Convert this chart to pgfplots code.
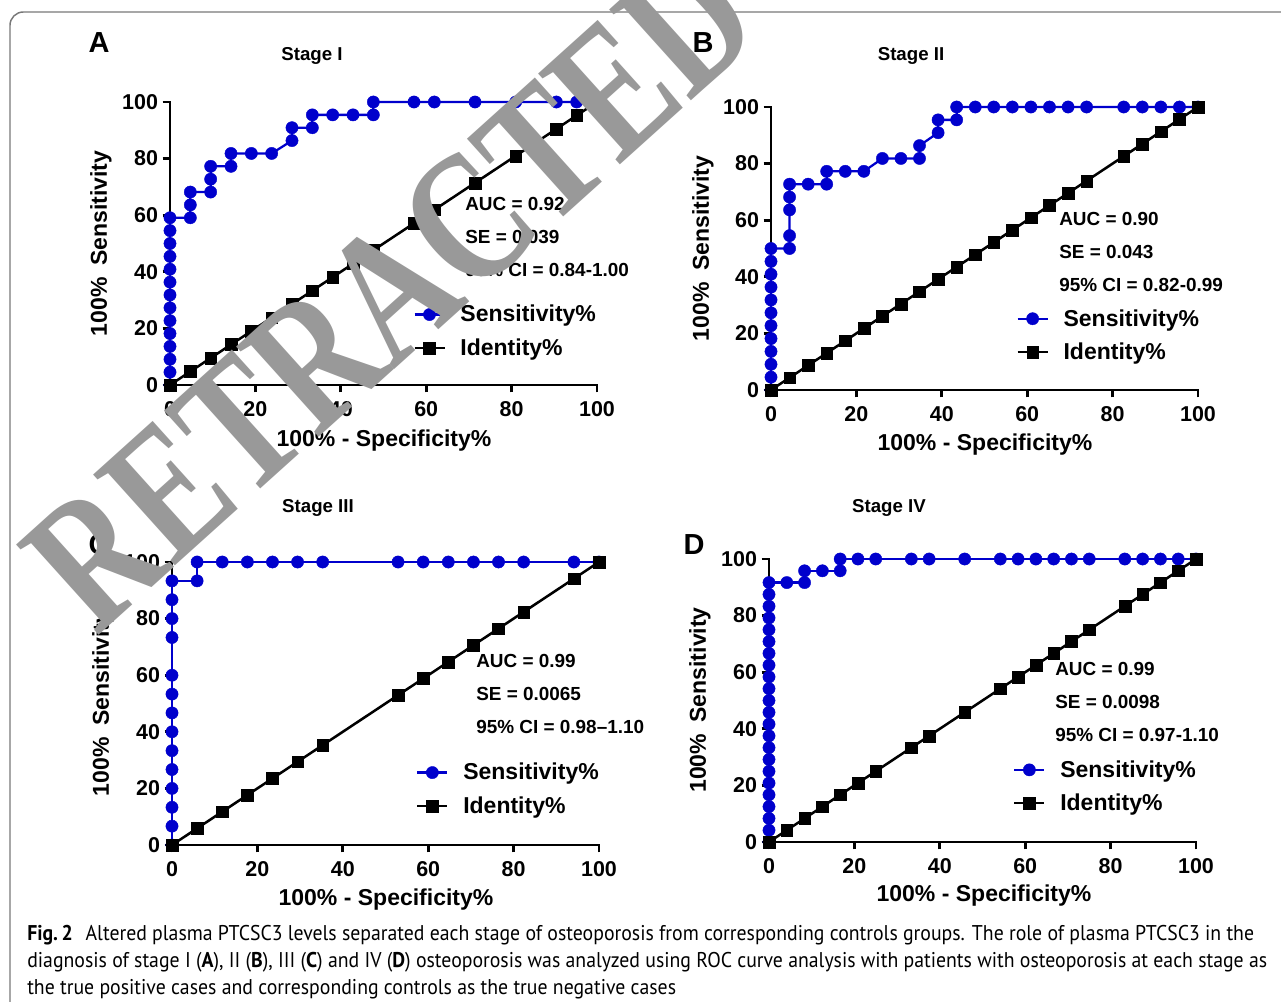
\documentclass[border=0pt]{standalone}
\usepackage{pgfplots}
\pgfplotsset{compat=1.18}
\usepackage{fontspec}
\setmainfont{Liberation Sans}
\newfontfamily\capfont{PT Sans}[FakeStretch=0.927]
\newfontfamily\wmfont{Liberation Serif}[FakeStretch=0.77]
\definecolor{rocblue}{RGB}{0,0,204}
\definecolor{wmgray}{RGB}{153,153,153}
\definecolor{framegray}{RGB}{120,120,120}
\newcommand\fs[1]{\fontsize{#1pt}{#1pt}\selectfont}

\pgfplotsset{
 roc/.style={
  scale only axis, width=320.25pt, height=212.25pt,
  xmin=0,xmax=100,ymin=0,ymax=100,
  axis lines=left,
  axis line style={-, line width=2.2pt, line cap=rect},
  xtick={0,20,...,100}, ytick={0,20,...,100},
  tick align=outside, major tick length=5.5pt,
  tick style={black, line width=2pt},
  minor tick num=0,
  ticklabel style={font=\fs{16.1}\bfseries},
  xticklabel style={yshift=-3.5pt},
  /pgf/number format/assume math mode=true,
  clip=false,
  legend style={draw=none, fill=none, font=\fs{17.25}\bfseries, anchor=west, inner sep=0pt, row sep=7pt},
  legend cell align=left,
  legend image code/.code={\draw[mark repeat=2,mark phase=2] plot coordinates {(0pt,0pt)(11.25pt,0pt)(22.5pt,0pt)};\path (31.5pt,0pt);},
 },
 sens/.style={rocblue, line width=1.7pt, mark=*, mark size=4.6pt, mark options={solid, line width=0.3pt}},
 iden/.style={black, line width=1.9pt, mark=square*, mark size=4.4pt, mark options={solid, line width=0.3pt}},
}

\begin{document}
\begin{tikzpicture}
\begin{scope}[x=0.75pt,y=-0.75pt]
\coordinate (oA) at (170,385);
\coordinate (oB) at (771,390);
\coordinate (oC) at (172,845);
\coordinate (oD) at (769,842);
\draw[framegray, line width=1.1pt, rounded corners=10pt] (10,12) rectangle (1310,1030);
\end{scope}

% ---------- A ----------
\begin{axis}[roc, at={(oA)}, anchor=south west,
  legend style={at={(axis cs:56.9,19.0)}}]
\addplot[sens] coordinates {(0,0)(0,4.55)(0,9.09)(0,13.64)(0,18.18)(0,22.73)(0,27.27)(0,31.82)(0,36.36)(0,40.91)(0,45.45)(0,50)(0,54.55)(0,59.09)(4.76,59.09)(4.76,63.64)(4.76,68.18)(9.52,68.18)(9.52,72.73)(9.52,77.27)(14.29,77.27)(14.29,81.82)(19.05,81.82)(23.81,81.82)(28.57,86.36)(28.57,90.91)(33.33,90.91)(33.33,95.45)(38.10,95.45)(42.86,95.45)(47.62,95.45)(47.62,100)(57.14,100)(61.90,100)(71.43,100)(80.95,100)(90.48,100)(95.24,100)(100,100)};
\addlegendentry{Sensitivity\%}
\addplot[iden] coordinates {(0,0)(4.76,4.76)(9.52,9.52)(14.29,14.29)(19.05,19.05)(23.81,23.81)(28.57,28.57)(33.33,33.33)(38.10,38.10)(42.86,42.86)(47.62,47.62)(57.14,57.14)(61.90,61.90)(71.43,71.43)(80.95,80.95)(90.48,90.48)(95.24,95.24)(100,100)};
\addlegendentry{Identity\%}
\end{axis}

% ---------- B ----------
\begin{axis}[roc, at={(oB)}, anchor=south west,
  legend style={at={(axis cs:57.4,19.3)}}]
\addplot[sens] coordinates {(0,0)(0,4.55)(0,9.09)(0,13.64)(0,18.18)(0,22.73)(0,27.27)(0,31.82)(0,36.36)(0,40.91)(0,45.45)(0,50)(4.35,50)(4.35,54.55)(4.35,63.64)(4.35,68.18)(4.35,72.73)(8.70,72.73)(13.04,72.73)(13.04,77.27)(17.39,77.27)(21.74,77.27)(26.09,81.82)(30.43,81.82)(34.78,81.82)(34.78,86.36)(39.13,90.91)(39.13,95.45)(43.48,95.45)(43.48,100)(47.83,100)(52.17,100)(56.52,100)(60.87,100)(65.22,100)(69.57,100)(73.91,100)(82.61,100)(86.96,100)(91.30,100)(95.65,100)(100,100)};
\addlegendentry{Sensitivity\%}
\addplot[iden] coordinates {(0,0)(4.35,4.35)(8.70,8.70)(13.04,13.04)(17.39,17.39)(21.74,21.74)(26.09,26.09)(30.43,30.43)(34.78,34.78)(39.13,39.13)(43.48,43.48)(47.83,47.83)(52.17,52.17)(56.52,56.52)(60.87,60.87)(65.22,65.22)(69.57,69.57)(73.91,73.91)(82.61,82.61)(86.96,86.96)(91.30,91.30)(95.65,95.65)(100,100)};
\addlegendentry{Identity\%}
\end{axis}

% ---------- C ----------
\begin{axis}[roc, at={(oC)}, anchor=south west,
  legend style={at={(axis cs:57.1,19.7)}}]
\addplot[sens] coordinates {(0,0)(0,6.67)(0,13.33)(0,20)(0,26.67)(0,33.33)(0,40)(0,46.67)(0,53.33)(0,60)(0,73.33)(0,80)(0,86.67)(0,93.33)(5.88,93.33)(5.88,100)(11.76,100)(17.65,100)(23.53,100)(29.41,100)(35.29,100)(52.94,100)(58.82,100)(64.71,100)(70.59,100)(76.47,100)(82.35,100)(94.12,100)(100,100)};
\addlegendentry{Sensitivity\%}
\addplot[iden] coordinates {(0,0)(5.88,5.88)(11.76,11.76)(17.65,17.65)(23.53,23.53)(29.41,29.41)(35.29,35.29)(52.94,52.94)(58.82,58.82)(64.71,64.71)(70.59,70.59)(76.47,76.47)(82.35,82.35)(94.12,94.12)(100,100)};
\addlegendentry{Identity\%}
\end{axis}

% ---------- D ----------
\begin{axis}[roc, at={(oD)}, anchor=south west,
  legend style={at={(axis cs:57.1,19.6)}}]
\addplot[sens] coordinates {(0,0)(0,4.17)(0,8.33)(0,12.5)(0,16.67)(0,20.83)(0,25)(0,29.17)(0,33.33)(0,37.5)(0,41.67)(0,45.83)(0,50)(0,54.17)(0,58.33)(0,62.5)(0,66.67)(0,70.83)(0,75)(0,79.17)(0,83.33)(0,87.5)(0,91.67)(4.17,91.67)(8.33,91.67)(8.33,95.83)(12.5,95.83)(16.67,95.83)(16.67,100)(20.83,100)(25,100)(33.33,100)(37.5,100)(45.83,100)(54.17,100)(58.33,100)(62.5,100)(66.67,100)(70.83,100)(75,100)(83.33,100)(87.5,100)(91.67,100)(95.83,100)(100,100)};
\addlegendentry{Sensitivity\%}
\addplot[iden] coordinates {(0,0)(4.17,4.17)(8.33,8.33)(12.5,12.5)(16.67,16.67)(20.83,20.83)(25,25)(33.33,33.33)(37.5,37.5)(45.83,45.83)(54.17,54.17)(58.33,58.33)(62.5,62.5)(66.67,66.67)(70.83,70.83)(75,75)(83.33,83.33)(87.5,87.5)(91.67,91.67)(95.83,95.83)(100,100)};
\addlegendentry{Identity\%}
\end{axis}

\begin{scope}[x=0.75pt,y=-0.75pt]
% titles
\begin{scope}[every node/.style={font=\fs{14}\bfseries, inner sep=0pt}]
\node at (312,56) {Stage I};
\node at (911,56) {Stage II};
\node at (318,508) {Stage III};
\node at (889,508) {Stage IV};
\end{scope}
% panel letters
\begin{scope}[every node/.style={font=\fs{21.75}\bfseries, inner sep=0pt}]
\node at (99,43) {A};
\node at (703,43) {B};
\node at (99,545) {C};
\node at (694,545) {D};
\end{scope}
% axis labels
\begin{scope}[every node/.style={font=\fs{17.25}\bfseries, inner sep=0pt}]
\node[rotate=90] at (101,243.5) {100\%\hspace{0.5em}Sensitivity};
\node[rotate=90] at (703,248.5) {100\%\hspace{0.5em}Sensitivity};
\node[rotate=90] at (103,703.5) {100\%\hspace{0.5em}Sensitivity};
\node[rotate=90] at (700,700) {100\%\hspace{0.5em}Sensitivity};
\node at (384,441) {100\% - Specificity\%};
\node at (985,445) {100\% - Specificity\%};
\node at (386,900) {100\% - Specificity\%};
\node at (984,896) {100\% - Specificity\%};
\end{scope}
% annotations
\begin{scope}[every node/.style={font=\fs{14.2}\bfseries, inner sep=0pt, anchor=west}]
\node at (465,204) {AUC = 0.92};
\node at (465,237) {SE = 0.039};
\node at (465,270) {95\% CI = 0.84-1.00};
\node at (1059,219) {AUC = 0.90};
\node at (1059,252) {SE = 0.043};
\node at (1059,285) {95\% CI = 0.82-0.99};
\node at (476,661) {AUC = 0.99};
\node at (476,694) {SE = 0.0065};
\node at (476,727) {95\% CI = 0.98--1.10};
\node at (1055,669) {AUC = 0.99};
\node at (1055,702) {SE = 0.0098};
\node at (1055,735) {95\% CI = 0.97-1.10};
\end{scope}
% caption
\begin{scope}[every node/.style={font=\capfont\fs{16}, inner sep=0pt, anchor=base west}]
\node at (27,940) {{\bfseries Fig.\,2}\hspace{0.6em}Altered plasma PTCSC3 levels separated each stage of osteoporosis from corresponding controls groups. The role of plasma PTCSC3 in the};
\node at (27,967) {diagnosis of stage I ({\bfseries A}), II ({\bfseries B}), III ({\bfseries C}) and IV ({\bfseries D}) osteoporosis was analyzed using ROC curve analysis with patients with osteoporosis at each stage as};
\node at (27,994) {the true positive cases and corresponding controls as the true negative cases};
\end{scope}
% watermark
\node[font=\wmfont\bfseries\fs{140}, text=wmgray, rotate=42, inner sep=0pt] at (391,290) {RETRACTED};
\end{scope}
\pgfresetboundingbox
\path[use as bounding box] (0pt,0pt) rectangle (960.75pt,-751.5pt);
\end{tikzpicture}
\end{document}
